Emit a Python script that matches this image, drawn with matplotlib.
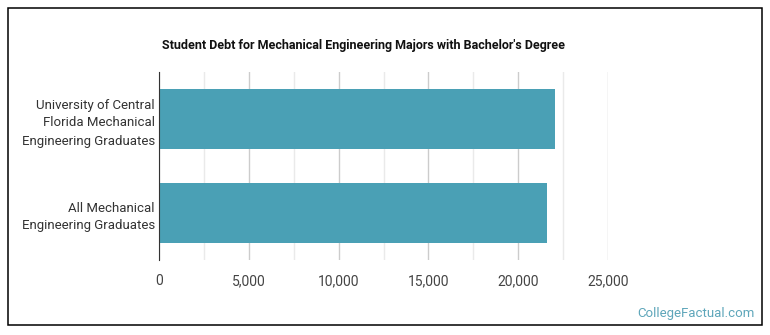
import matplotlib.pyplot as plt
from matplotlib.patches import Rectangle
from matplotlib.ticker import MultipleLocator, FuncFormatter

plt.rcParams['font.family'] = ['Roboto', 'DejaVu Sans']

labels = ['University of Central\nFlorida Mechanical\nEngineering Graduates',
          'All Mechanical\nEngineering Graduates']
debt = [22050, 21600]
xticks = [0, 5000, 10000, 15000, 20000, 25000]

fig = plt.figure(figsize=(7.7, 3.35), dpi=100)
ax = fig.add_axes([159 / 770, 1 - 260 / 335, (608 - 159) / 770, (260 - 72) / 335])

# outer frame
fig.patches.append(Rectangle((8 / 770, 10 / 335), 754 / 770, 317 / 335, transform=fig.transFigure,
                             fill=False, edgecolor='black', linewidth=1.1))

ypos = list(range(len(labels)))
ax.barh(ypos, debt, height=0.64, color='#4aa0b5', zorder=3)
ax.set_ylim(1.5, -0.5)
ax.set_xlim(0, 25000)
ax.set_yticks(ypos)
ax.set_yticklabels(labels, fontsize=9.5, color='#333333', linespacing=1.5)
ax.set_xticks(xticks)
ax.xaxis.set_major_formatter(FuncFormatter(lambda v, p: f'{int(v):,}'))
ax.xaxis.set_minor_locator(MultipleLocator(2500))
ax.tick_params(axis='x', which='both', length=0, labelsize=10, labelcolor='#444444', pad=10)
ax.tick_params(axis='y', length=0, pad=3)
ax.grid(axis='x', which='major', color='#cccccc', linewidth=1, zorder=0)
ax.grid(axis='x', which='minor', color='#eaeaea', linewidth=1, zorder=0)
for s in ['top', 'right', 'bottom']:
    ax.spines[s].set_visible(False)
ax.spines['left'].set_color('#333333')
ax.spines['left'].set_zorder(4)

fig.text(162 / 770, 1 - 45 / 335, "Student Debt for Mechanical Engineering Majors with Bachelor's Degree",
         fontsize=9, fontweight='bold', color='#111111', va='center', ha='left')
fig.text(755 / 770, 1 - 313 / 335, 'CollegeFactual.com', fontsize=9.5, color='#5ea6ba',
         ha='right', va='center')

fig.savefig('out.png', dpi=100)
